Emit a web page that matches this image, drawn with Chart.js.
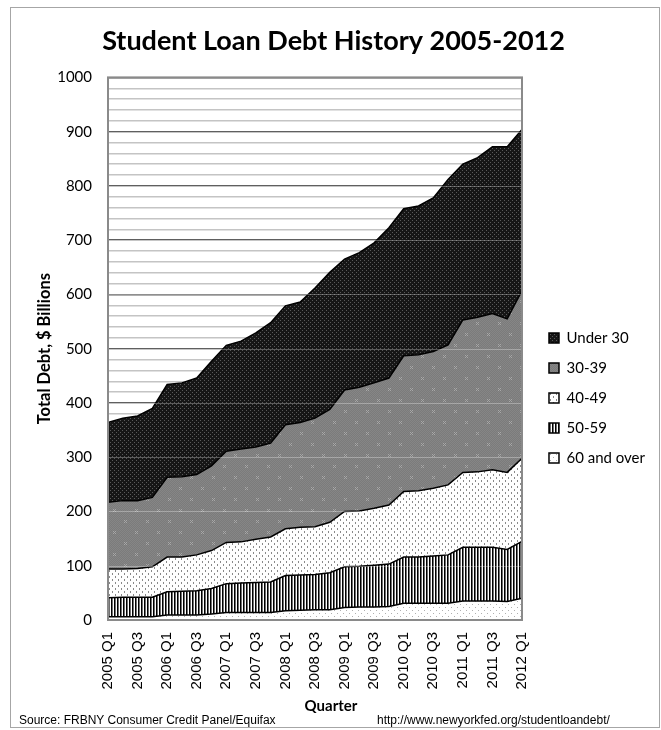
<!DOCTYPE html>
<html>
<head>
<meta charset="utf-8">
<script src="https://cdn.jsdelivr.net/npm/chart.js@4.4.1/dist/chart.umd.min.js"></script>
<style>
  html, body { margin: 0; padding: 0; background: #fff; }
  #wrap { position: relative; width: 661px; height: 730px; overflow: hidden; }
  #frame { position: absolute; left: 10px; top: 7px; width: 650px; height: 721px; border: 1px solid #a6a6a6; box-sizing: border-box; }
  #chart { position: absolute; left: 0; top: 0; }
  .axis-title { position: absolute; left: 231px; width: 200px; top: 696px; text-align: center; font: bold 15px Lato, sans-serif; color: #000; }
  .note { position: absolute; top: 713px; font: 12px "Liberation Sans", Arial, sans-serif; color: #000; white-space: nowrap; }
</style>
</head>
<body>
<div id="wrap">
  <div id="frame"></div>
  <canvas id="chart" width="661" height="730"></canvas>
  <div class="axis-title">Quarter</div>
  <div class="note" style="left:19px">Source: FRBNY Consumer Credit Panel/Equifax</div>
  <div class="note" style="left:377px">http://www.newyorkfed.org/studentloandebt/</div>
</div>
<script>
// quarterly student loan balances by borrower age, $ billions
const quarters = [
    '2005 Q1', '2005 Q2', '2005 Q3', '2005 Q4',
    '2006 Q1', '2006 Q2', '2006 Q3', '2006 Q4',
    '2007 Q1', '2007 Q2', '2007 Q3', '2007 Q4',
    '2008 Q1', '2008 Q2', '2008 Q3', '2008 Q4',
    '2009 Q1', '2009 Q2', '2009 Q3', '2009 Q4',
    '2010 Q1', '2010 Q2', '2010 Q3', '2010 Q4',
    '2011 Q1', '2011 Q2', '2011 Q3', '2011 Q4',
    '2012 Q1'
];
const age60plus = [6, 6, 6, 6, 9, 9, 9, 11, 14, 14, 14, 14, 17, 18, 19, 19, 23, 24, 24, 25, 31, 31, 31, 31, 35, 35, 35, 34, 40];
const age50to59 = [35, 36, 36, 36, 43, 44, 45, 47, 53, 54, 55, 56, 65, 65, 65, 68, 75, 75, 77, 78, 85, 85, 87, 89, 99, 99, 99, 96, 105];
const age40to49 = [53, 52, 53, 56, 64, 63, 66, 70, 76, 76, 80, 83, 86, 88, 88, 93, 102, 102, 105, 109, 121, 122, 125, 129, 138, 139, 143, 142, 153];
const age30to39 = [123, 126, 125, 128, 147, 148, 148, 156, 168, 171, 170, 173, 192, 193, 200, 208, 224, 228, 231, 234, 250, 251, 252, 258, 281, 285, 288, 283, 309];
const under30 = [147, 152, 156, 164, 171, 173, 178, 193, 195, 199, 210, 222, 219, 222, 240, 253, 241, 248, 258, 277, 271, 274, 283, 305, 287, 294, 307, 317, 297];

const yMin = 0;
const yMax = 1000;
const yStep = 20;
const yLabelStep = 100;

Chart.defaults.font.family = 'Lato';
Chart.defaults.color = '#000';

// small repeating tiles to mimic the excel pattern fills
function makePattern(w, h, bg, draw) {
    const c = document.createElement('canvas');
    c.width = w;
    c.height = h;
    const g = c.getContext('2d');
    g.fillStyle = bg;
    g.fillRect(0, 0, w, h);
    draw(g);
    return g.createPattern(c, 'repeat');
}

const patUnder30 = makePattern(4, 4, '#161616', g => {
    g.fillStyle = '#5a5a5a';
    g.fillRect(0, 0, 1, 1);
    g.fillRect(2, 2, 1, 1);
});
const pat30s = makePattern(22, 22, '#7b7b7b', g => {
    g.fillStyle = '#868686';
    for (let y = 0; y < 22; y++) {
        for (let x = (y % 2); x < 22; x += 2) g.fillRect(x, y, 1, 1);
    }
    g.fillStyle = '#a8a8a8';
    [[3, 3], [14, 14]].forEach(p => {
        g.fillRect(p[0], p[1], 1, 1);
        g.fillRect(p[0] + 1, p[1] + 1, 1, 1);
        g.fillRect(p[0] + 2, p[1], 1, 1);
        g.fillRect(p[0], p[1] + 2, 1, 1);
        g.fillRect(p[0] + 2, p[1] + 2, 1, 1);
    });
});
const pat40s = makePattern(6, 6, '#fff', g => {
    g.fillStyle = '#8a8a8a';
    g.fillRect(1, 0, 1, 2);
    g.fillRect(4, 3, 1, 2);
});
const pat50s = makePattern(3, 1, '#fff', g => {
    g.fillStyle = '#000';
    g.fillRect(0, 0, 1, 1);
    g.fillStyle = '#707070';
    g.fillRect(1, 0, 1, 1);
});
const pat60s = makePattern(6, 6, '#fff', g => {
    g.fillStyle = '#b0b0b0';
    g.fillRect(1, 1, 1, 1);
    g.fillRect(4, 4, 1, 1);
});

// legend sits a bit right of and lower than where chart.js puts it,
// and the title is centred on the outer frame rather than the canvas
const boxNudge = {
    id: 'boxNudge',
    afterUpdate(chart) {
        const lg = chart.legend;
        lg.left += 12;
        lg.right += 12;
        lg.top += 48;
        lg.bottom += 48;
        const tb = chart.titleBlock;
        tb.left += 10;
        tb.right += 10;
    }
};

// gray box round the plot + faint major lines showing through the fills
const plotFrame = {
    id: 'plotFrame',
    afterDatasetsDraw(chart) {
        const {ctx, chartArea: a, scales: {y}} = chart;
        ctx.save();
        ctx.strokeStyle = 'rgba(255,255,255,0.3)';
        ctx.lineWidth = 1;
        for (let v = yLabelStep; v < yMax; v += yLabelStep) {
            const py = Math.round(y.getPixelForValue(v)) + 0.5;
            ctx.beginPath();
            ctx.moveTo(a.left, py);
            ctx.lineTo(a.right, py);
            ctx.stroke();
        }
        ctx.strokeStyle = '#8a8a8a';
        ctx.lineWidth = 2;
        ctx.strokeRect(a.left, a.top, a.right - a.left, a.bottom - a.top);
        ctx.restore();
    }
};

const series = [
    {label: '60 and over', data: age60plus, bg: pat60s, fill: 'origin'},
    {label: '50-59', data: age50to59, bg: pat50s, fill: '-1'},
    {label: '40-49', data: age40to49, bg: pat40s, fill: '-1'},
    {label: '30-39', data: age30to39, bg: pat30s, fill: '-1'},
    {label: 'Under 30', data: under30, bg: patUnder30, fill: '-1'}
];

new Chart(document.getElementById('chart'), {
    type: 'line',
    data: {
        labels: quarters,
        datasets: series.map(s => ({
            label: s.label,
            data: s.data,
            backgroundColor: s.bg,
            borderColor: '#000',
            borderWidth: 1.5,
            fill: s.fill,
            tension: 0,
            pointRadius: 0
        }))
    },
    options: {
        responsive: false,
        animation: false,
        layout: {padding: {left: 4, right: 18, top: 0, bottom: 30}},
        plugins: {
            title: {
                display: true,
                text: 'Student Loan Debt History 2005-2012',
                color: '#000',
                font: {family: 'Lato', size: 27, weight: 'bold'},
                padding: {top: 25, bottom: 20}
            },
            legend: {
                position: 'right',
                reverse: true,
                labels: {
                    boxWidth: 10,
                    boxHeight: 10,
                    padding: 15,
                    color: '#000',
                    font: {family: 'Lato', size: 15}
                }
            },
            tooltip: {enabled: false}
        },
        scales: {
            x: {
                offset: false,
                grid: {display: false, drawTicks: false},
                border: {display: false},
                ticks: {
                    autoSkip: false,
                    minRotation: 90,
                    maxRotation: 90,
                    padding: 12,
                    color: '#000',
                    font: {family: 'Liberation Sans', size: 15},
                    callback: (v, i) => (i % 2 === 0 ? quarters[i] : '')
                },
                afterFit: s => { s.height = 80; }
            },
            y: {
                stacked: true,
                min: yMin,
                max: yMax,
                grid: {
                    drawTicks: false,
                    lineWidth: 1.5,
                    color: c => (c.tick.value % yLabelStep === 0 ? '#5f5f5f' : '#c4c4c4')
                },
                border: {display: false},
                ticks: {
                    autoSkip: false,
                    stepSize: yStep,
                    padding: 16,
                    color: '#000',
                    font: {family: 'Lato', size: 15},
                    callback: v => (v % yLabelStep === 0 ? v : '')
                },
                title: {
                    display: true,
                    text: 'Total Debt, $ Billions',
                    color: '#000',
                    font: {family: 'Lato', size: 16.5, weight: 'bold'},
                    padding: {top: 31, bottom: 0}
                },
                afterFit: s => { s.width = 104; }
            }
        }
    },
    plugins: [boxNudge, plotFrame]
});
</script>
</body>
</html>
